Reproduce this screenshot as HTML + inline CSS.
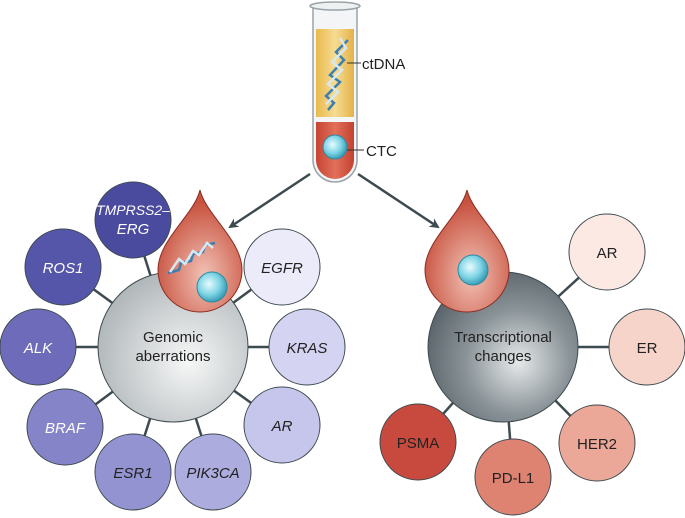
<!DOCTYPE html>
<html><head><meta charset="utf-8"><style>
html,body{margin:0;padding:0;background:#fff}
svg{display:block}
text{font-family:"Liberation Sans",sans-serif}
</style></head><body>
<svg width="685" height="518" viewBox="0 0 685 518" xmlns="http://www.w3.org/2000/svg">
<defs>
<radialGradient id="gL" cx="0.6" cy="0.6" r="0.7"><stop offset="0" stop-color="#f6f7f7"/><stop offset="1" stop-color="#a9b0b3"/></radialGradient>
<radialGradient id="gR" cx="0.6" cy="0.6" r="0.7"><stop offset="0" stop-color="#e6e9ea"/><stop offset="0.5" stop-color="#8a9398"/><stop offset="1" stop-color="#4f5a60"/></radialGradient>
<radialGradient id="drop" cx="0.55" cy="0.7" r="0.6"><stop offset="0" stop-color="#f2c2b6"/><stop offset="1" stop-color="#c8523f"/></radialGradient>
<radialGradient id="cell" cx="0.4" cy="0.4" r="0.6"><stop offset="0" stop-color="#e8fbff"/><stop offset="0.6" stop-color="#7fd4e4"/><stop offset="1" stop-color="#3a9fb8"/></radialGradient>
<linearGradient id="yel" x1="0" x2="1"><stop offset="0" stop-color="#e9b94e"/><stop offset="0.5" stop-color="#f6dc92"/><stop offset="1" stop-color="#e4b24a"/></linearGradient>
<linearGradient id="red" x1="0" x2="1"><stop offset="0" stop-color="#c54432"/><stop offset="0.5" stop-color="#e2705a"/><stop offset="1" stop-color="#c34130"/></linearGradient>
<marker id="ah" markerWidth="10" markerHeight="10" refX="8" refY="5" orient="auto" markerUnits="userSpaceOnUse"><path d="M0,0 L10,5 L0,10 L3,5z" fill="#3d4a4f"/></marker>
</defs>

<!-- tube -->
<path d="M313,8 L313,160 A22,22 0 0 0 357,160 L357,8" fill="#f3f5f6" stroke="#9aa3a7" stroke-width="1.5"/>
<ellipse cx="335" cy="6" rx="25" ry="4" fill="#eef1f2" stroke="#9aa3a7" stroke-width="1.5"/>
<rect x="316" y="29" width="38" height="88" fill="url(#yel)"/>
<path d="M316,122 L316,160 A19,19 0 0 0 354,160 L354,122z" fill="url(#red)"/>
<g stroke-width="2.5" fill="none">
<path d="M348,40 L336,52 L344,60 L330,75 L340,82 L326,96 L334,103 L328,110" stroke="#3c7fb0"/>
<path d="M340,38 L346,48 L332,62 L342,70 L328,84 L338,92 L326,104" stroke="#d8e8f0"/>
</g>
<circle cx="335" cy="147" r="12" fill="url(#cell)" stroke="#2d8aa2" stroke-width="1"/>
<line x1="347" y1="63" x2="361" y2="63" stroke="#333" stroke-width="1"/>
<line x1="347" y1="150" x2="364" y2="150" stroke="#333" stroke-width="1"/>
<text x="362" y="69" font-size="15" fill="#222">ctDNA</text>
<text x="366" y="156" font-size="15" fill="#222">CTC</text>

<!-- arrows -->
<line x1="310" y1="174" x2="230" y2="227" stroke="#3d4a4f" stroke-width="2.5" marker-end="url(#ah)"/>
<line x1="358" y1="174" x2="438" y2="227" stroke="#3d4a4f" stroke-width="2.5" marker-end="url(#ah)"/>

<!-- left connectors -->
<g stroke="#3d4a4f" stroke-width="2.5">
<line x1="173" y1="347" x2="133" y2="220"/><line x1="173" y1="347" x2="63" y2="267"/>
<line x1="173" y1="347" x2="38" y2="347"/><line x1="173" y1="347" x2="65" y2="427"/>
<line x1="173" y1="347" x2="133" y2="472"/><line x1="173" y1="347" x2="213" y2="472"/>
<line x1="173" y1="347" x2="282" y2="425"/><line x1="173" y1="347" x2="307" y2="347"/>
<line x1="173" y1="347" x2="282" y2="267"/>
</g>
<g stroke="#3d4a4f" stroke-width="1">
<circle cx="133" cy="220" r="38" fill="#4a4a9f"/>
<circle cx="63" cy="267" r="38" fill="#5555a9"/>
<circle cx="38" cy="347" r="38" fill="#6e6cba"/>
<circle cx="65" cy="427" r="38" fill="#8584c8"/>
<circle cx="133" cy="472" r="38" fill="#9493d2"/>
<circle cx="213" cy="472" r="38" fill="#adacdf"/>
<circle cx="282" cy="425" r="38" fill="#c6c5ec"/>
<circle cx="307" cy="347" r="38" fill="#d4d4f2"/>
<circle cx="282" cy="267" r="38" fill="#ebebfa"/>
</g>
<circle cx="173" cy="347" r="75" fill="url(#gL)" stroke="#3d4a4f" stroke-width="1"/>
<g font-size="15" font-style="italic" text-anchor="middle">
<text x="133" y="215" fill="#fff" font-size="14">TMPRSS2–</text><text x="133" y="234" fill="#fff">ERG</text>
<text x="63" y="273" fill="#fff">ROS1</text>
<text x="38" y="353" fill="#fff">ALK</text>
<text x="65" y="433" fill="#fff">BRAF</text>
<text x="133" y="478" fill="#222">ESR1</text>
<text x="213" y="478" fill="#222">PIK3CA</text>
<text x="282" y="431" fill="#222">AR</text>
<text x="307" y="353" fill="#222">KRAS</text>
<text x="282" y="273" fill="#222">EGFR</text>
</g>
<text x="173" y="342" font-size="15" text-anchor="middle" fill="#222">Genomic</text>
<text x="173" y="361" font-size="15" text-anchor="middle" fill="#222">aberrations</text>

<!-- left drop -->
<path d="M200,190 C206,215 242,240 242,270 A42,42 0 0 1 158,270 C158,240 194,215 200,190z" fill="url(#drop)" stroke="#8a2e22" stroke-width="1"/>
<g stroke-width="2.5" fill="none">
<path d="M215,243 L205,245 L203,252 L193,254 L191,261 L181,263 L179,270 L168,273" stroke="#3c7fb0"/>
<path d="M213,248 L207,243 L199,255 L193,251 L185,264 L179,259 L170,272" stroke="#d8e8f0"/>
</g>
<circle cx="212" cy="287" r="15" fill="url(#cell)" stroke="#2d8aa2" stroke-width="1"/>

<!-- right connectors -->
<g stroke="#3d4a4f" stroke-width="2.5">
<line x1="503" y1="347" x2="607" y2="252"/><line x1="503" y1="347" x2="647" y2="347"/>
<line x1="503" y1="347" x2="597" y2="443"/><line x1="503" y1="347" x2="513" y2="477"/>
<line x1="503" y1="347" x2="418" y2="442"/>
</g>
<g stroke="#3d4a4f" stroke-width="1">
<circle cx="607" cy="252" r="38" fill="#fce9e4"/>
<circle cx="647" cy="347" r="38" fill="#f7d4ca"/>
<circle cx="597" cy="443" r="38" fill="#eba898"/>
<circle cx="513" cy="477" r="38" fill="#de8372"/>
<circle cx="418" cy="442" r="38" fill="#c84a3e"/>
</g>
<circle cx="503" cy="347" r="75" fill="url(#gR)" stroke="#3d4a4f" stroke-width="1"/>
<g font-size="15" text-anchor="middle" fill="#222">
<text x="607" y="258">AR</text><text x="647" y="353">ER</text>
<text x="597" y="449">HER2</text><text x="513" y="483">PD-L1</text><text x="418" y="448">PSMA</text>
<text x="503" y="342">Transcriptional</text><text x="503" y="361">changes</text>
</g>
<path d="M467,190 C473,215 509,240 509,270 A42,42 0 0 1 425,270 C425,240 461,215 467,190z" fill="url(#drop)" stroke="#8a2e22" stroke-width="1"/>
<circle cx="473" cy="270" r="15" fill="url(#cell)" stroke="#2d8aa2" stroke-width="1"/>
</svg>
</body></html>
